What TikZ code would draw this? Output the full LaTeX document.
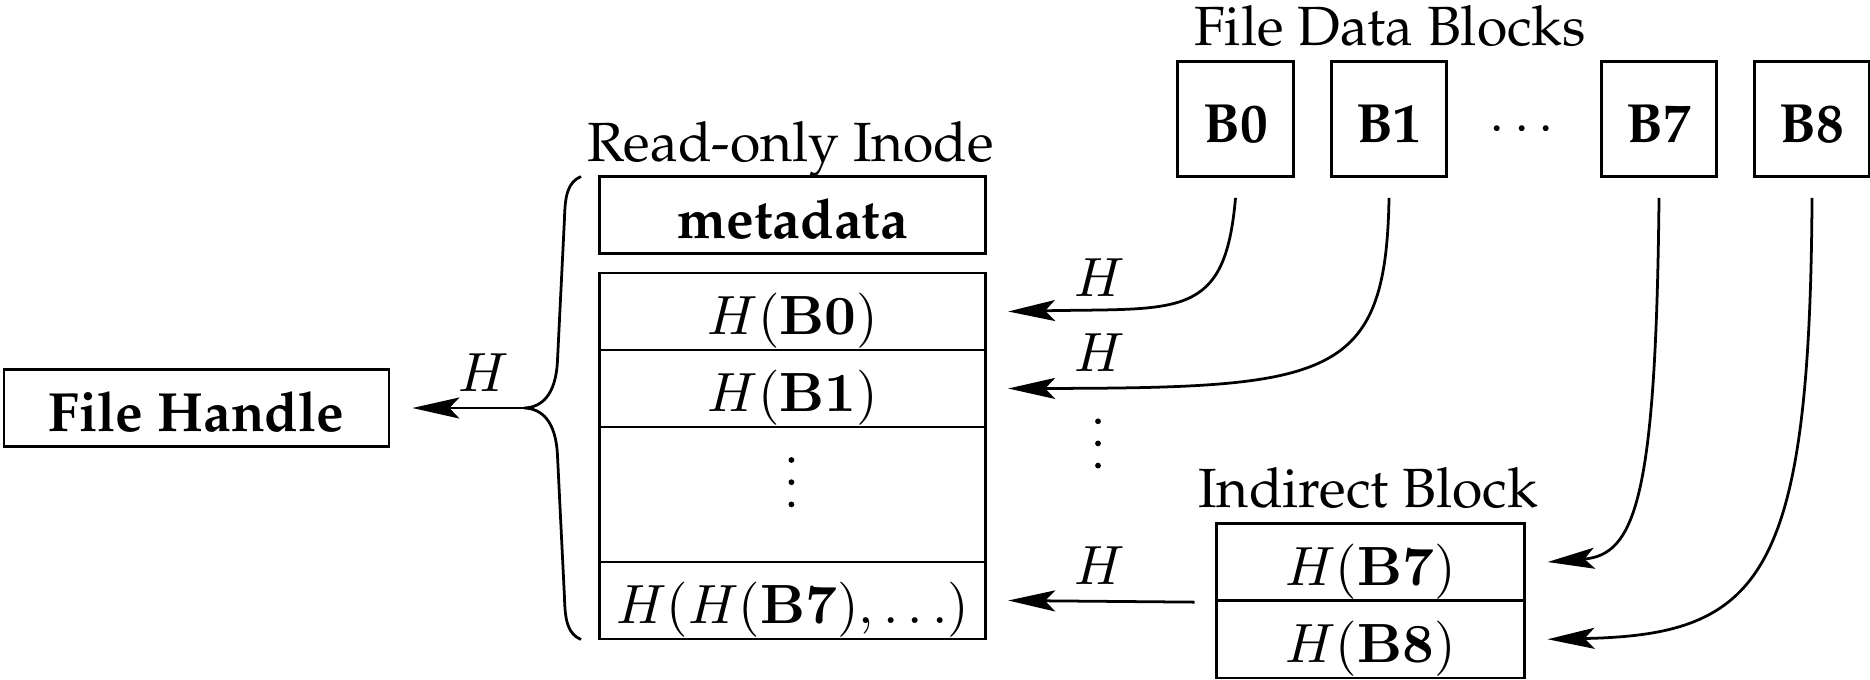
\documentclass[tikz,border=0pt]{standalone}
\usepackage[T1]{fontenc}
\renewcommand{\rmdefault}{ppl}
\usetikzlibrary{arrows.meta}
\def\PX{0.006367cm}
\tikzset{
  every path/.style={line width=0.5pt},
  box/.style={draw, line width=0.5pt, inner sep=0pt, text height=8.4pt, text depth=0pt},
  wide/.style={minimum width=386*\PX},
  rowh/.style={minimum height=77*\PX},
  blk/.style={box, minimum width=115.5*\PX, minimum height=115*\PX},
  ind/.style={box, minimum width=307.6*\PX, minimum height=77.5*\PX},
  lbl/.style={anchor=base, inner sep=0pt},
  arr/.style={line width=0.5pt, -{Stealth[length=8.5pt,width=3.8pt,inset=1.8pt]}},
  vdot/.style={fill=black}
}
\begin{document}
\begin{tikzpicture}[x=0.006367cm, y=-0.006367cm]
\useasboundingbox (0,0) rectangle (1870,679);
% File handle
\node[box, minimum width=385*\PX, minimum height=76.5*\PX] (fh) at (196.5,408) {\textbf{File Handle}};
% Inode
\node[lbl] (lrio) at (790.6,161) {Read-only Inode};
\node[box, wide, rowh] (meta) at (792.8,215) {\textbf{metadata}};
\node[box, wide, rowh] (r0) at (792.8,311.5) {$H(\mathbf{B0})$};
\node[box, wide, rowh] (r1) at (792.8,388.5) {$H(\mathbf{B1})$};
\node[box, wide, minimum height=135*\PX] (r2) at (792.8,494.5) {};
\node[box, wide, rowh] (r3) at (792.8,600.5) {$H(H(\mathbf{B7}),\ldots)$};
\foreach \yy in {460,482.2,504.4} \fill[vdot] (791.4,\yy) circle[radius=2.9*\PX];
% brace
\draw (581,176.5) .. controls (568,182) and (565,195) .. (564.5,218) -- (557.5,360)
  .. controls (556,396) and (541,407.5) .. (524,408)
  .. controls (541,408.5) and (556,420) .. (557.5,456) -- (564.5,598)
  .. controls (565,621) and (568,634) .. (581,639.5);
\coordinate (btip) at (524,408);
\draw[arr] (btip) -- ([xshift=22*\PX]fh.east);
\node[lbl] (hfh) at (483.5,391.5) {$H$};
% data blocks
\node[lbl] (lfdb) at (1390,45.5) {File Data Blocks};
\node[blk] (B0) at (1235.5,119) {\textbf{B0}};
\node[blk] (B1) at (1389,119) {\textbf{B1}};
\node[blk] (B7) at (1659,119) {\textbf{B7}};
\node[blk] (B8) at (1812,119) {\textbf{B8}};
\node[lbl] (cd) at (1522,142) {$\cdots$};
% indirect block
\node[lbl] (libk) at (1368,507) {Indirect Block};
\node[ind] (i0) at (1370.4,562) {$H(\mathbf{B7})$};
\node[ind] (i1) at (1370.4,639.25) {$H(\mathbf{B8})$};
% arrows
\draw[arr] ([yshift=-20*\PX]B0.south) .. controls (1225,320) and (1180,308) .. ([xshift=21*\PX]r0.east);
\draw[arr] ([yshift=-20*\PX]B1.south) .. controls (1386,380) and (1330,388) .. ([xshift=21*\PX]r1.east);
\draw[arr] ([yshift=-20*\PX]B7.south) .. controls (1656,500) and (1635,555) .. ([xshift=22*\PX]i0.east);
\draw[arr] ([yshift=-20*\PX]B8.south) .. controls (1810,580) and (1760,635) .. ([xshift=22*\PX]i1.east);
\draw[arr] ([xshift=-20.6*\PX]i0.south west) -- ([xshift=21*\PX]r3.east);
\node[lbl] (h0) at (1100,296) {$H$};
\node[lbl] (h1) at (1100,371.4) {$H$};
\node[lbl] (h3) at (1100,584) {$H$};
\foreach \yy in {421.3,443.4,465.6} \fill[vdot] (1098,\yy) circle[radius=2.9*\PX];
\end{tikzpicture}
\end{document}
